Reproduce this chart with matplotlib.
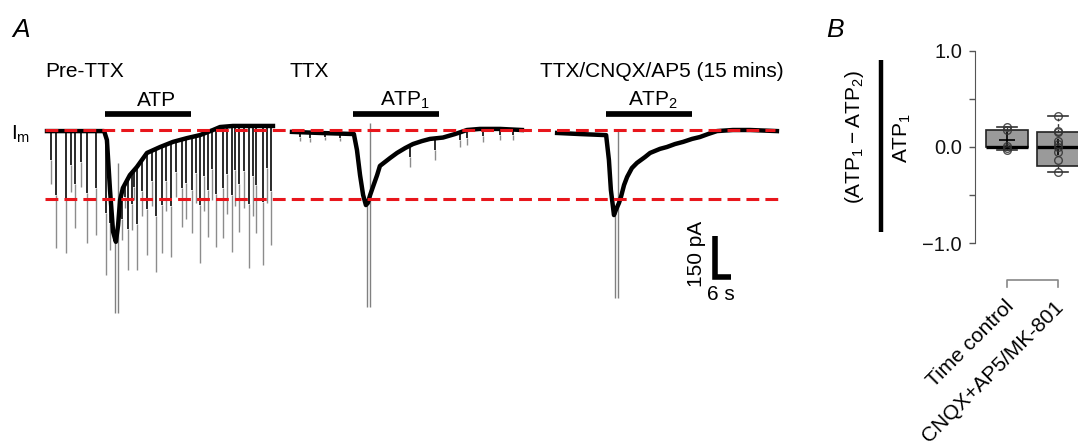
import numpy as np
import matplotlib
matplotlib.use('Agg')
import matplotlib.pyplot as plt
from matplotlib.collections import LineCollection
from matplotlib.lines import Line2D

plt.rcParams['font.family'] = ['Liberation Sans', 'DejaVu Sans']
plt.rcParams['mathtext.fontset'] = 'custom'
plt.rcParams['mathtext.rm'] = 'Liberation Sans'
plt.rcParams['mathtext.it'] = 'Liberation Sans:italic'
plt.rcParams['mathtext.default'] = 'regular'

# ---------------- Panel A data (time in s from sweep start, current in pA) ----------------
sweep_names = ['Pre-TTX', 'TTX', 'TTX/CNQX/AP5 (15 mins)']
atp_labels = ['ATP', 'ATP$_1$', 'ATP$_2$']
atp_on = [20.7, 21.8, 17.9]
atp_off = [51.4, 52.5, 48.6]

pre_t = [0, 20.4, 21.4, 22.5, 23.6, 24.6, 25.4, 26.1, 27.1, 29.6, 32.1, 35.7, 40.4, 45.0,
         50.0, 54.6, 59.3, 61.8, 66.4, 80.7]
pre_i = [-4, -4, -37, -222, -377, -414, -352, -259, -215, -167, -137, -85, -63, -44,
         -30, -19, 0, 11, 15, 15]
pre_spike_t = [3.1, 6.8, 10.0, 14.2, 17.5, 21.1, 22.5, 26.7, 28.9, 30.3, 32.1, 35.7, 38.9,
               41.0, 44.2, 48.1, 51.7, 54.6, 57.5, 60.4, 62.8, 66.0, 68.6, 72.1, 74.6, 77.0, 80.0]
pre_spike_i = [-437, -455, -363, -418, -389, -537, -444, -407, -518, -370, -518, -463, -525,
               -455, -470, -359, -381, -492, -396, -433, -400, -451, -377, -511, -381, -500, -426]
pre_minor_t = [1.5, 8.4, 12.1, 27.9, 31.1, 33.9, 37.5, 42.5, 46.1, 49.6, 53.2, 56.1, 58.9,
               64.3, 67.1, 70.4, 73.6, 78.6]
pre_minor_i = [-200, -230, -210, -290, -260, -320, -280, -300, -250, -330, -270, -300, -260,
               -310, -280, -290, -320, -270]
pre_art_t = [24.3, 25.4]
pre_art_top = [-400, -122]
pre_art_bot = [-677, -677]

ttx_t = [0, 10.0, 22.1, 23.2, 24.3, 25.4, 26.4, 27.1, 27.9, 28.9, 30.4, 31.4, 35.0, 37.5,
         40.4, 43.2, 46.4, 49.3, 53.9, 58.2, 62.5, 67.1, 74.3, 82.1]
ttx_i = [-7, -11, -15, -74, -167, -241, -278, -270, -241, -211, -167, -133, -104, -85,
         -67, -52, -41, -33, -28, -15, 0, 4, 4, 0]
ttx_spike_t = [2.9, 6.4, 11.8, 17.1, 42.1, 51.1, 60.0, 62.5, 68.2, 74.3, 78.9]
ttx_spike_i = [-40, -43, -36, -40, -137, -111, -63, -56, -44, -37, -37]
ttx_art_t = [26.8, 27.9]
ttx_art_top = [-278, 26]
ttx_art_bot = [-655, -655]

cnqx_t = [0.4, 8.6, 17.9, 18.9, 19.6, 20.4, 20.7, 21.4, 22.5, 23.2, 24.3, 25.4, 27.1, 28.9,
          31.8, 33.6, 37.1, 39.6, 42.5, 45.4, 48.6, 51.4, 54.3, 57.5, 63.2, 69.3, 78.9]
cnqx_i = [-11, -15, -19, -111, -222, -289, -315, -296, -270, -248, -204, -174, -141, -122,
          -100, -85, -70, -63, -52, -44, -33, -26, -15, -4, 0, 0, -4]
cnqx_art_t = [21.1, 22.1]
cnqx_art_top = [-296, 0]
cnqx_art_bot = [-622, -622]

peak_level = -257      # lower dashed reference (pA)
scale_pA = 150
scale_s = 6

# ---------------- Panel B data ----------------
groups = ['Time control', 'CNQX+AP5/MK-801']
tc_vals = [0.21, 0.18, 0.01, -0.01, -0.03]
cnqx_vals = [0.32, 0.17, 0.15, 0.06, 0.03, 0.0, -0.05, -0.14, -0.26]
box_q1 = [0.0, -0.20]
box_med = [0.0, 0.0]
box_q3 = [0.18, 0.15]
box_lo = [-0.03, -0.26]
box_hi = [0.21, 0.32]
box_mean = [0.07, 0.0]

# ---------------- Figure ----------------
W, H = 1078, 448
fig = plt.figure(figsize=(W / 100, H / 100), dpi=100)

def fx(px):
    return px / W

def fy(py):
    return 1 - py / H

PX_S = 2.8      # px per second
PX_PA = 0.27    # px per pA
axA = fig.add_axes([0, 0, 800 / W, 1])
axA.set_xlim(0, 800 / PX_S)
axA.set_ylim(-(H - 130) / PX_PA, 130 / PX_PA)
axA.axis('off')

offsets = [47 / PX_S, 292 / PX_S, 556 / PX_S]

def draw_sweep(off, t, i, st, si, minor_t, minor_i, art_t, art_top, art_bot):
    T = np.asarray(t, float) + off
    I = np.asarray(i, float)
    dark, light = [], []
    for xs, ys in ((st, si), (minor_t, minor_i)):
        for x, s in zip(xs, ys):
            x = x + off
            b = np.interp(x, T, I)
            mid = b + (s - b) * 0.55
            dark.append([(x, b), (x, mid)])
            light.append([(x, mid), (x, s)])
    axA.add_collection(LineCollection(light, colors='#8c8c8c', linewidths=1.0, zorder=2))
    axA.add_collection(LineCollection(dark, colors='#2a2a2a', linewidths=1.4, zorder=2))
    arts = [[(x + off, a), (x + off, b)] for x, a, b in zip(art_t, art_top, art_bot)]
    axA.add_collection(LineCollection(arts, colors='#808080', linewidths=1.0, zorder=2))
    axA.plot(T, I, color='black', lw=3.2, solid_joinstyle='round', zorder=3)

draw_sweep(offsets[0], pre_t, pre_i, pre_spike_t, pre_spike_i, pre_minor_t, pre_minor_i,
           pre_art_t, pre_art_top, pre_art_bot)
draw_sweep(offsets[1], ttx_t, ttx_i, ttx_spike_t, ttx_spike_i, [], [],
           ttx_art_t, ttx_art_top, ttx_art_bot)
draw_sweep(offsets[2], cnqx_t, cnqx_i, [], [], [], [],
           cnqx_art_t, cnqx_art_top, cnqx_art_bot)

# dashed reference lines
red = '#e8161c'
for y0, x1 in ((0, 775), (peak_level, 778)):
    ln, = axA.plot([45 / PX_S, x1 / PX_S], [y0, y0], color=red, lw=2.2, zorder=5)
    ln.set_dashes((4.2, 2.0))

# ATP bars
bar_y = (130 - 114.5) / PX_PA
for off, a, b in zip(offsets, atp_on, atp_off):
    axA.plot([off + a, off + b], [bar_y, bar_y], color='black', lw=4.1,
             solid_capstyle='butt', zorder=4)

# scale bar
sx0 = 714.5 / PX_S
sy0 = -(277 - 130) / PX_PA
axA.plot([sx0, sx0, sx0 + scale_s], [sy0 + scale_pA, sy0, sy0], color='black', lw=4.0,
         solid_joinstyle='miter', solid_capstyle='butt', zorder=4)
fig.text(fx(697), fy(254), f'{scale_pA} pA', rotation=90, ha='center', va='center', fontsize=15)
fig.text(fx(721), fy(300), f'{scale_s} s', ha='center', va='baseline', fontsize=15)

# texts panel A
fig.text(fx(12), fy(37), 'A', fontsize=19, style='italic', va='baseline', ha='left')
for xpx, name in zip((45, 290, 540), sweep_names):
    fig.text(fx(xpx), fy(77), name, fontsize=15, va='baseline', ha='left')
for xpx, lab in zip((137, 380, 628), atp_labels):
    fig.text(fx(xpx), fy(106), lab, fontsize=15, va='baseline', ha='left')
fig.text(fx(11), fy(140), 'I$_m$', fontsize=15, va='baseline', ha='left')

# ---------------- Panel B ----------------
PX_U = 96.15
axB = fig.add_axes([fx(975), fy(255), (W - 975) / W, (255 - 40) / H])
axB.set_ylim(-1 - (255 - 243) / PX_U, 1 + (50.7 - 40) / PX_U)
axB.set_xlim(1 - 32 / 51, 1 + (W - 1007) / 51)
for s in ('top', 'right', 'bottom'):
    axB.spines[s].set_visible(False)
axB.spines['left'].set_bounds(-1, 1)
axB.spines['left'].set_color('#555555')

stats = []
for k in range(2):
    stats.append(dict(med=box_med[k], q1=box_q1[k], q3=box_q3[k], whislo=box_lo[k],
                      whishi=box_hi[k], mean=box_mean[k], fliers=[]))
axB.bxp(stats, positions=[1, 2], widths=0.82, patch_artist=True, showmeans=True,
        showfliers=False, capwidths=0.4, manage_ticks=False,
        boxprops=dict(facecolor='#9a9a9a', edgecolor='#222222', lw=1.2),
        medianprops=dict(color='black', lw=2.4),
        whiskerprops=dict(color='#333333', lw=1.0, linestyle=(0, (2, 2))),
        capprops=dict(color='#333333', lw=1.2),
        meanprops=dict(marker='+', markersize=11, markeredgecolor='black', mew=1.2))
for x, vals in ((1, tc_vals), (2, cnqx_vals)):
    axB.plot([x] * len(vals), vals, 'o', mfc='none', mec='#333333', mew=1.0, ms=5.5,
             alpha=0.85, zorder=5, clip_on=False)

axB.set_xticks([])
axB.set_yticks([-1, 0, 1])
axB.set_yticklabels(['\u22121.0', '0.0', '1.0'])
axB.set_yticks([-0.5, 0.5], minor=True)
axB.tick_params(axis='y', which='both', length=4.3, width=1, color='#555555',
                labelsize=14.5, pad=5, labelcolor='#111111')
axB.set_xlim(1 - 32 / 51, 1 + (W - 1007) / 51)

# bracket under group labels
yb0 = -1 - (280 - 243) / PX_U
yb1 = -1 - (287 - 243) / PX_U
axB.plot([1, 1, 2, 2], [yb1, yb0, yb0, yb1], color='#888888', lw=1.2, clip_on=False)

ylab = -1 - (297 - 243) / PX_U
for x, g in zip((0.94, 1.91), groups):
    axB.text(x, ylab, g, rotation=45, rotation_mode='anchor', ha='right', va='top',
             fontsize=15, clip_on=False)

# y-label as a fraction
fig.text(fx(826), fy(37), 'B', fontsize=19, style='italic', va='baseline', ha='left')
fig.text(fx(855), fy(137), '(ATP$_1$\u2009\u2212\u2009ATP$_2$)', rotation=90,
         ha='center', va='center', fontsize=15)
fig.add_artist(Line2D([fx(881), fx(881)], [fy(60), fy(232)], color='black', lw=3.2,
                      solid_capstyle='butt'))
fig.text(fx(902), fy(138), 'ATP$_1$', rotation=90, ha='center', va='center', fontsize=15)

fig.savefig('out.png', dpi=100)
